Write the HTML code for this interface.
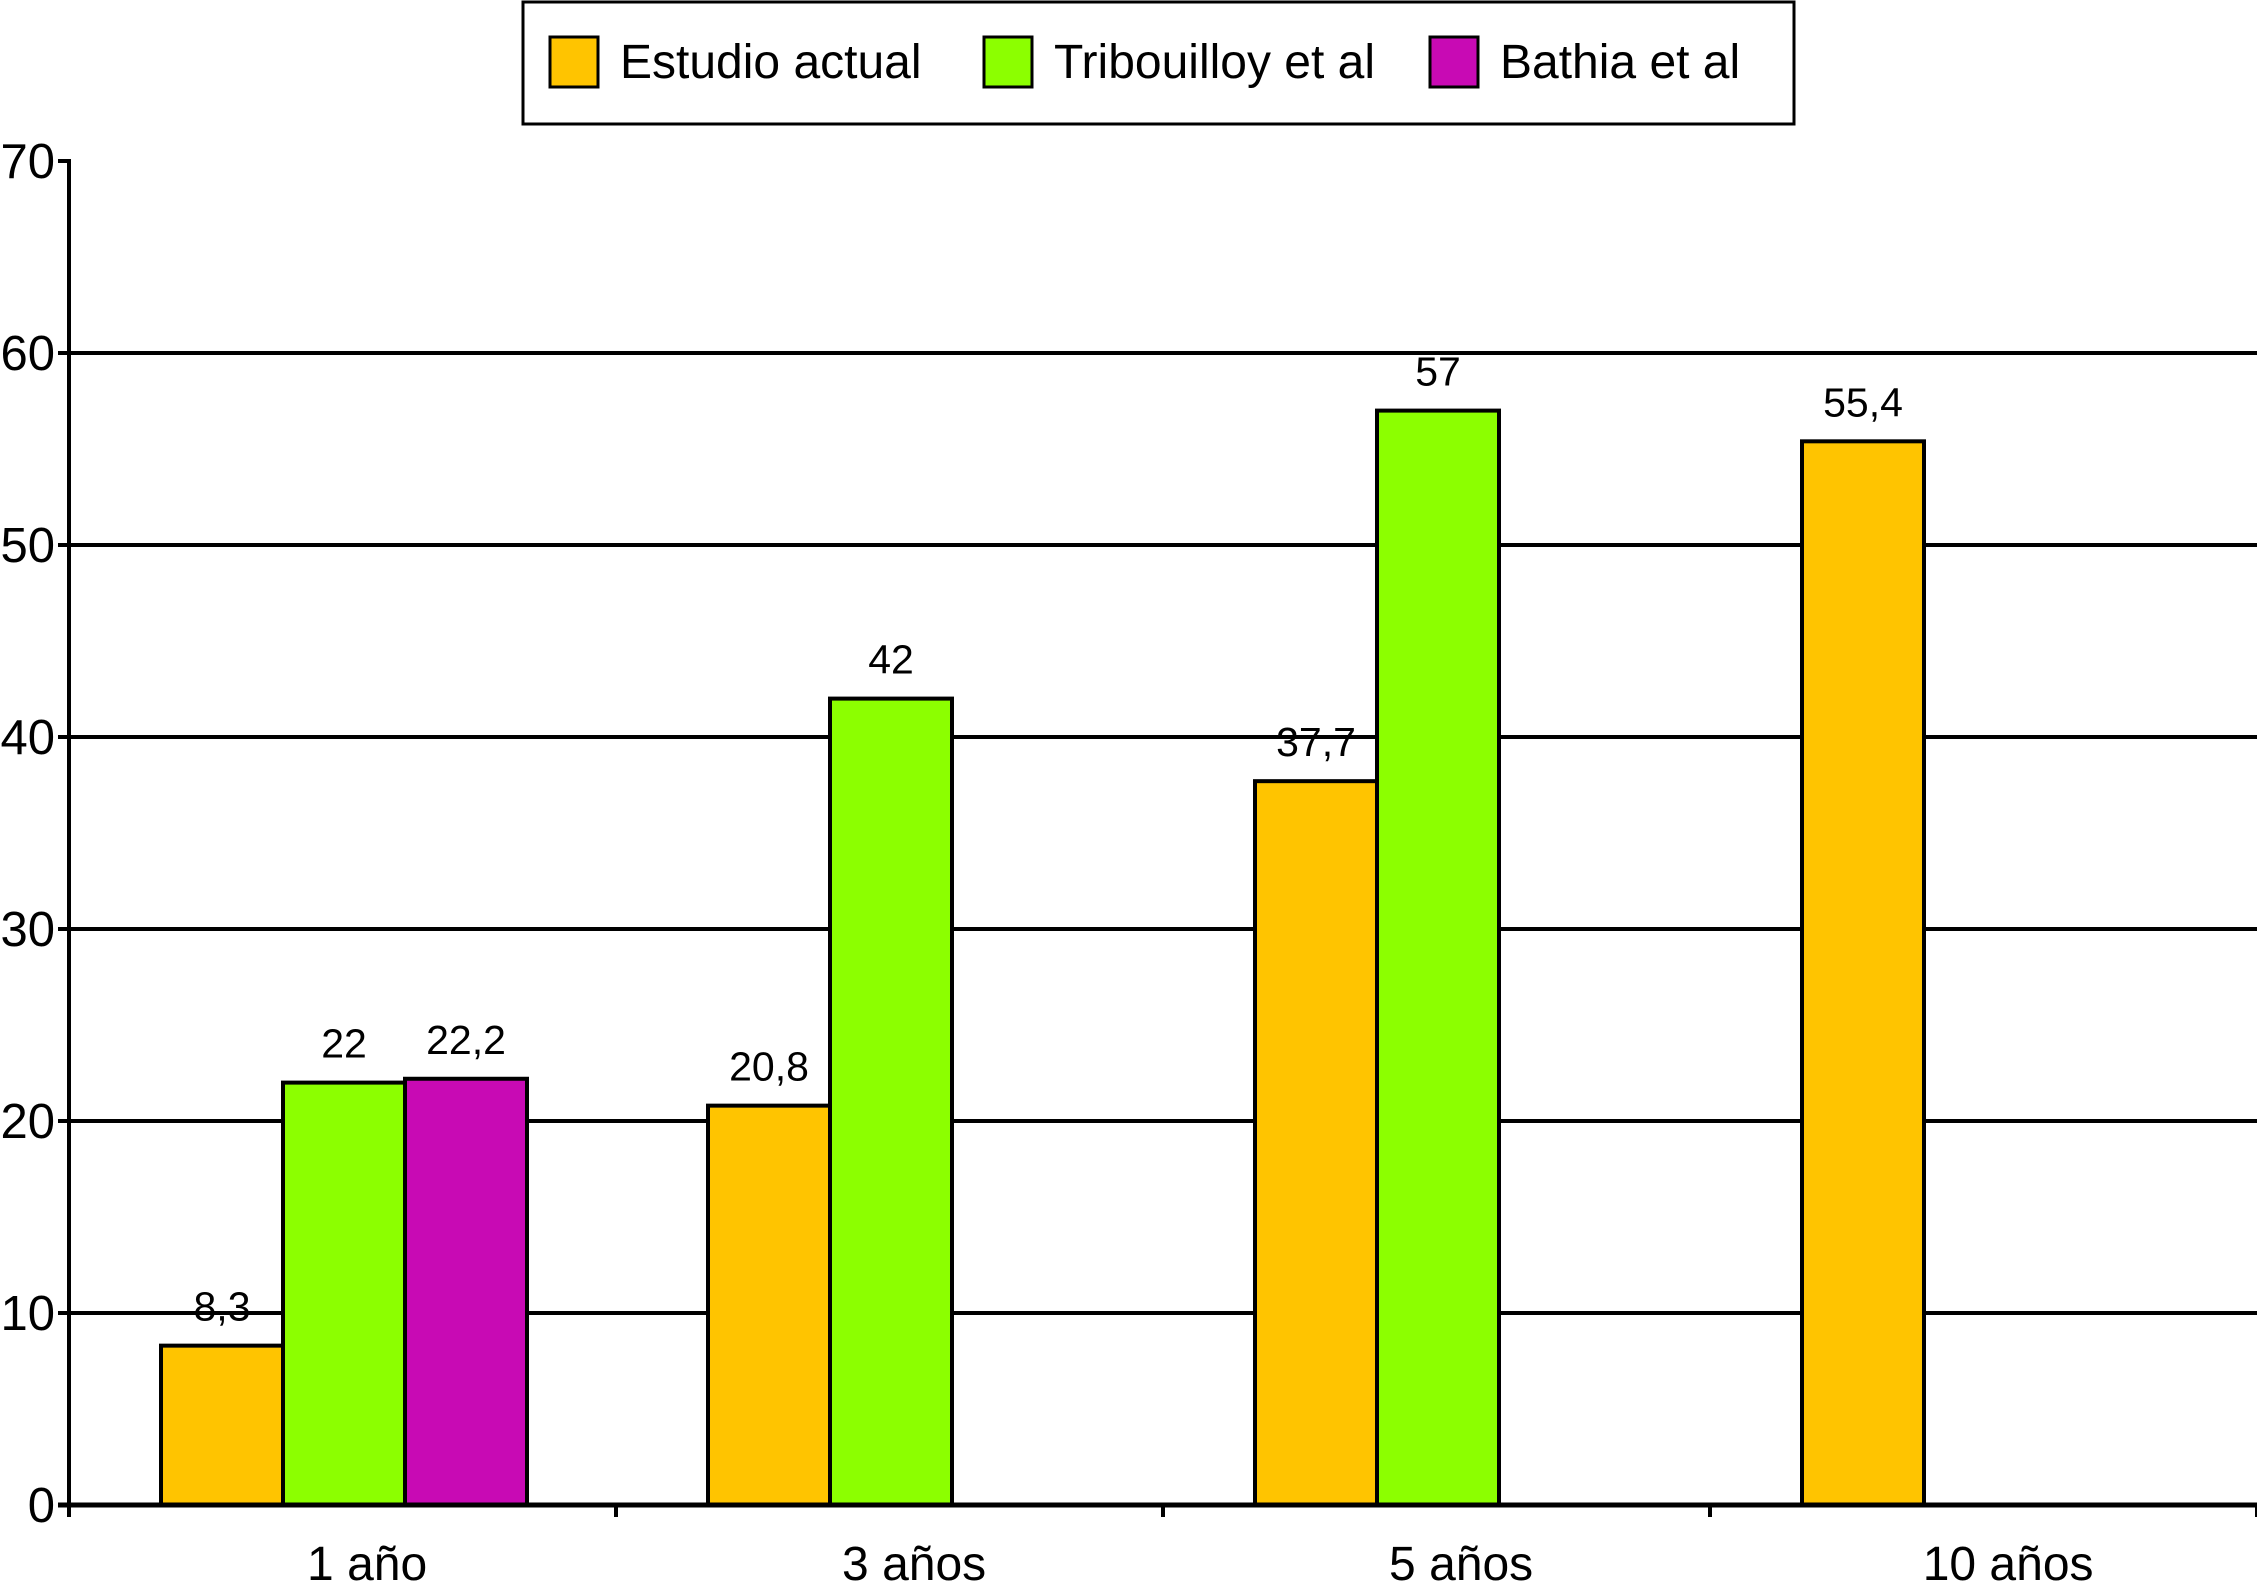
<!DOCTYPE html>
<html><head><meta charset="utf-8"><style>
html,body{margin:0;padding:0;background:#fff}
svg{display:block;font-family:"Liberation Sans",Arial,sans-serif}
</style></head><body>
<svg id="chart" width="2257" height="1590" viewBox="0 0 2257 1590" xmlns="http://www.w3.org/2000/svg">
<g>
<rect x="523" y="2" width="1271" height="122" fill="#fff" stroke="#000" stroke-width="3"/>
<rect x="550" y="37" width="48" height="50" fill="#FFC400" stroke="#000" stroke-width="3"/>
<text x="620" y="78" font-size="48">Estudio actual</text>
<rect x="984" y="37" width="48" height="50" fill="#8CFF00" stroke="#000" stroke-width="3"/>
<text x="1054" y="78" font-size="48">Tribouilloy et al</text>
<rect x="1430" y="37" width="48" height="50" fill="#C80AB4" stroke="#000" stroke-width="3"/>
<text x="1500" y="78" font-size="48">Bathia et al</text>
</g>
<g id="plot"></g>
</svg>
<script>
const categories = ["1 año","3 años","5 años","10 años"];
const estudio = [8.3, 20.8, 37.7, 55.4];
const tribouilloy = [22, 42, 57, null];
const bathia = [22.2, null, null, null];
const estudioLabels = ["8,3","20,8","37,7","55,4"];
const tribouilloyLabels = ["22","42","57",""];
const bathiaLabels = ["22,2","","",""];
const yTicks = [0,10,20,30,40,50,60,70];

const NS="http://www.w3.org/2000/svg";
const g=document.getElementById('plot');
const X0=69, X1=2257, Y0=1505, Y70=161;
const catW=(X1-X0)/categories.length, barOff=92, barW=122;
function y(v){return Y0-(v/70)*(Y0-Y70);}
function xBar(ci,si){return X0+ci*catW+barOff+si*barW;}
function mk(tag,attrs){const e=document.createElementNS(NS,tag);for(const k in attrs)e.setAttribute(k,attrs[k]);g.appendChild(e);return e;}

yTicks.forEach(t=>{
  if(t>0 && t<70){const l=mk('line',{x1:X0,x2:X1,y1:y(t),y2:y(t),stroke:'#000','stroke-width':4});
  
  }
  const tk=mk('line',{x1:X0-11,x2:X0,y1:y(t),y2:y(t),stroke:'#000','stroke-width':4});
  
  
  const tx=mk('text',{x:X0-14,y:y(t)+17,'font-size':49,'text-anchor':'end'});
  tx.textContent=t;
  
  
});

const series=[[estudio,estudioLabels,'#FFC400','estudio'],[tribouilloy,tribouilloyLabels,'#8CFF00','tribouilloy'],[bathia,bathiaLabels,'#C80AB4','bathia']];
series.forEach((s,si)=>{
  s[0].forEach((v,ci)=>{
    if(v==null)return;
    const r=mk('rect',{x:xBar(ci,si),y:y(v),width:barW,height:Y0-y(v),fill:s[2],stroke:'#000','stroke-width':4});
    
    
    const t=mk('text',{x:xBar(ci,si)+barW/2,y:y(v)-25,'font-size':41,'text-anchor':'middle'});
    t.textContent=s[1][ci];
    
    
  });
});

const ax=mk('line',{x1:X0,x2:X0,y1:Y70-2,y2:Y0+12,stroke:'#000','stroke-width':4});


const bx=mk('line',{x1:X0-11,x2:X1,y1:Y0,y2:Y0,stroke:'#000','stroke-width':5});


for(let i=0;i<=categories.length;i++){
  const tk=mk('line',{x1:X0+i*catW,x2:X0+i*catW,y1:Y0,y2:Y0+12,stroke:'#000','stroke-width':4});
  
  
}
categories.forEach((c,ci)=>{
  const t=mk('text',{x:X0+ci*catW+catW*0.545,y:1580,'font-size':48,'text-anchor':'middle'});
  t.textContent=c;
  
  
});
</script>
</body></html>
